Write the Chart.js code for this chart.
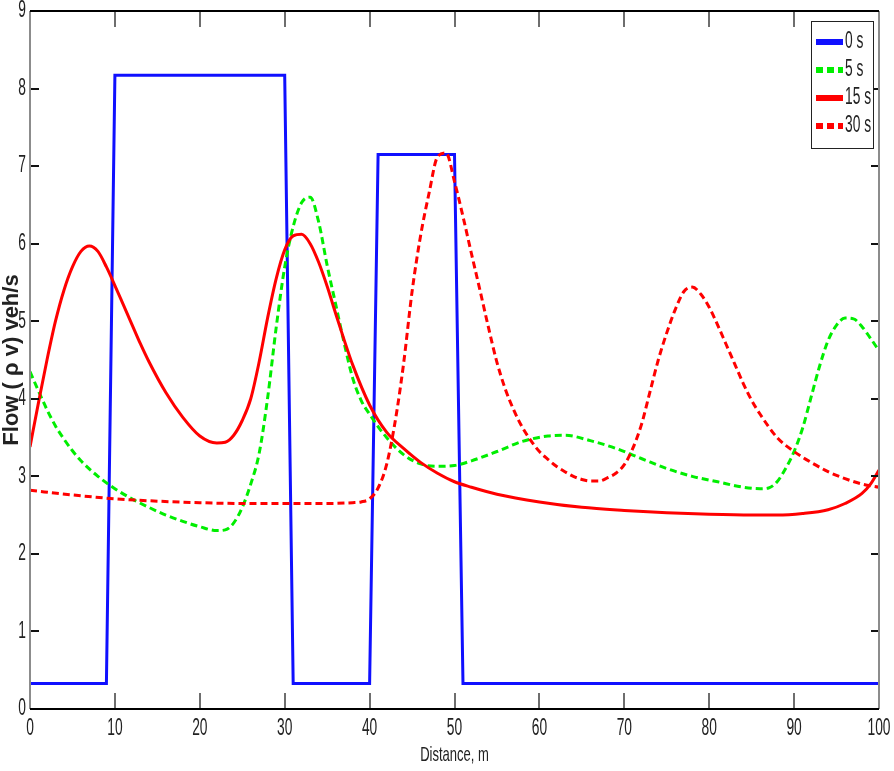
<!DOCTYPE html>
<html>
<head>
<meta charset="utf-8">
<title>Flow vs distance</title>
<script src="https://cdn.jsdelivr.net/npm/chart.js@4.4.1/dist/chart.umd.min.js"></script>
<style>
  html, body { margin: 0; padding: 0; background: #fff; }
  canvas { display: block; }
</style>
</head>
<body>
<canvas id="flowChart" width="894" height="771"></canvas>
<script>
// tick labels
const xTicks = [0, 10, 20, 30, 40, 50, 60, 70, 80, 90, 100];
const yTicks = [0, 1, 2, 3, 4, 5, 6, 7, 8, 9];

// series names (legend)
const seriesNames = ['0 s', '5 s', '15 s', '30 s'];

// 0 s  - initial blocks
const x0 = [0, 9, 10, 30, 31, 40, 41, 50, 51, 100];
const y0 = [0.33, 0.33, 8.17, 8.17, 0.33, 0.33, 7.15, 7.15, 0.33, 0.33];

// 5 s
const x5 = [0, 1, 2, 3, 4, 5, 6, 8, 10, 12, 14, 16, 18, 20, 22,
  23, 24, 25, 26, 27, 28, 29, 30, 31, 32, 33, 34, 35, 36, 37, 38, 39, 40,
  42, 44, 46, 48, 50, 52, 55, 58, 61, 63, 66, 69, 72, 75, 78, 81, 84, 86,
  87, 88, 89, 90, 91, 92, 93, 94, 95, 96, 97, 98, 99, 100];
const y5 = [4.35, 4.1, 3.86, 3.65, 3.48, 3.33, 3.2, 3.0, 2.84, 2.71, 2.6, 2.5, 2.42, 2.35, 2.3,
  2.31, 2.4, 2.6, 2.9, 3.3, 4.02, 4.92, 5.7, 6.22, 6.53, 6.6, 6.28, 5.72, 5.22, 4.72, 4.27, 3.98, 3.8,
  3.5, 3.28, 3.16, 3.13, 3.14, 3.2, 3.32, 3.45, 3.52, 3.53, 3.46, 3.36, 3.23, 3.1, 3.0, 2.93, 2.86, 2.84,
  2.85, 2.93, 3.1, 3.32, 3.62, 4.02, 4.42, 4.75, 4.95, 5.04, 5.03, 4.93, 4.78, 4.62];

// 15 s
const x15 = [0, 1, 2, 3, 4, 5, 6, 7, 8, 9, 10, 11, 12, 13, 14, 16, 18, 20, 22,
  23, 24, 25, 26, 27, 28, 29, 30, 31, 32, 33, 34, 35, 36, 37, 38,
  40, 42, 44, 46, 48, 50, 52, 55, 60, 65, 70, 75, 80, 85, 88, 91, 94, 96, 98, 99, 100];
const y15 = [3.38, 3.95, 4.5, 5.0, 5.4, 5.7, 5.9, 5.97, 5.9, 5.7, 5.46, 5.21, 4.96, 4.71, 4.48, 4.08, 3.76, 3.52, 3.43,
  3.44, 3.53, 3.72, 4.0, 4.48, 5.05, 5.55, 5.92, 6.1, 6.12, 6.0, 5.76, 5.45, 5.1, 4.76, 4.44,
  3.92, 3.57, 3.36, 3.18, 3.04, 2.93, 2.86, 2.77, 2.67, 2.6, 2.56, 2.53, 2.51, 2.5, 2.5, 2.52, 2.57, 2.65, 2.78, 2.9, 3.08];

// 30 s
const x30 = [0, 5, 10, 15, 20, 25, 30, 35, 38, 39,
  40, 41, 42, 43, 44, 45, 46, 47, 48, 49, 50, 51, 52, 53, 54, 55, 56, 57, 58, 59,
  60, 61, 62, 63, 64, 65, 66, 67, 68, 69,
  70, 71, 72, 73, 74, 75, 76, 77, 78, 79, 80, 81, 82, 83, 84, 85, 86,
  88, 90, 92, 94, 96, 98, 100];
const y30 = [2.82, 2.76, 2.71, 2.68, 2.66, 2.65, 2.65, 2.65, 2.66, 2.67,
  2.71, 2.85, 3.15, 3.7, 4.45, 5.38, 6.1, 6.65, 7.12, 7.17, 6.8, 6.35, 5.87, 5.4, 4.92, 4.47, 4.12, 3.85, 3.63, 3.46,
  3.32, 3.22, 3.13, 3.06, 3.0, 2.96, 2.94, 2.94, 2.98, 3.04,
  3.15, 3.36, 3.66, 4.08, 4.5, 4.85, 5.15, 5.38, 5.44, 5.35, 5.18, 4.95, 4.7, 4.45, 4.2, 3.98, 3.8,
  3.5, 3.32, 3.18, 3.06, 2.97, 2.9, 2.86];

const FONT = "'Liberation Sans', Arial, sans-serif";

function toPoints(xs, ys) {
  return xs.map((x, i) => ({ x: x, y: ys[i] }));
}

// narrow text like the original figure
function squeezeText(ctx, text, x, y, size, sx, align) {
  ctx.save();
  ctx.translate(x, y);
  ctx.scale(sx, 1);
  ctx.font = size + 'px ' + FONT;
  ctx.textAlign = align;
  ctx.textBaseline = 'middle';
  ctx.fillText(text, 0, 0);
  ctx.restore();
}

// box, inward ticks, labels and legend drawn MATLAB style
const matlabFrame = {
  id: 'matlabFrame',
  afterDraw(chart) {
    const ctx = chart.ctx;
    const a = chart.chartArea;
    const xs = chart.scales.x;
    const ys = chart.scales.y;
    ctx.save();

    // tick marks
    ctx.lineWidth = 2;
    ctx.strokeStyle = '#6e6e6e';
    xTicks.forEach(v => {
      const px = Math.round(xs.getPixelForValue(v));
      ctx.beginPath();
      ctx.moveTo(px, a.bottom); ctx.lineTo(px, a.bottom - 16);
      ctx.moveTo(px, a.top); ctx.lineTo(px, a.top + 16);
      ctx.stroke();
    });
    ctx.strokeStyle = '#111';
    yTicks.forEach(v => {
      const py = Math.round(ys.getPixelForValue(v));
      ctx.beginPath();
      ctx.moveTo(a.left, py); ctx.lineTo(a.left + 9, py);
      ctx.moveTo(a.right, py); ctx.lineTo(a.right - 8, py);
      ctx.stroke();
    });

    // axes box
    ctx.strokeStyle = '#8c8c8c';
    ctx.beginPath();
    ctx.moveTo(a.left, a.top); ctx.lineTo(a.left, a.bottom);
    ctx.moveTo(a.right, a.top); ctx.lineTo(a.right, a.bottom);
    ctx.stroke();
    ctx.strokeStyle = '#000';
    ctx.beginPath();
    ctx.moveTo(a.left, a.top); ctx.lineTo(a.right, a.top);
    ctx.moveTo(a.left, a.bottom); ctx.lineTo(a.right, a.bottom);
    ctx.stroke();

    // tick labels
    ctx.fillStyle = '#222';
    yTicks.forEach(v => {
      squeezeText(ctx, String(v), a.left - 4, ys.getPixelForValue(v), 23, 0.6, 'right');
    });
    xTicks.forEach(v => {
      squeezeText(ctx, String(v), xs.getPixelForValue(v), a.bottom + 20, 23, 0.6, 'center');
    });

    // axis titles
    squeezeText(ctx, 'Distance, m', (a.left + a.right) / 2, 755, 21, 0.62, 'center');
    ctx.save();
    ctx.translate(12, (a.top + a.bottom) / 2);
    ctx.rotate(-Math.PI / 2);
    ctx.font = 'bold 22px ' + FONT;
    ctx.textAlign = 'center';
    ctx.textBaseline = 'middle';
    ctx.fillText('Flow ( \u03c1 v) veh/s', 0, 0);
    ctx.restore();

    // legend
    const bx = 811.5, by = 21.5, bw = 62, bh = 127;
    ctx.fillStyle = '#fff';
    ctx.fillRect(bx, by, bw, bh);
    ctx.lineWidth = 1;
    ctx.strokeStyle = '#222';
    ctx.strokeRect(bx, by, bw, bh);
    chart.data.datasets.forEach((ds, i) => {
      const ly = 42 + i * 28;
      ctx.save();
      ctx.strokeStyle = ds.borderColor;
      ctx.lineWidth = 6;
      ctx.setLineDash(ds.borderDash || []);
      ctx.beginPath();
      ctx.moveTo(816, ly); ctx.lineTo(843, ly);
      ctx.stroke();
      ctx.restore();
      ctx.fillStyle = '#222';
      squeezeText(ctx, ds.label, 845, ly, 23, 0.6, 'left');
    });

    ctx.restore();
  }
};

const ctx = document.getElementById('flowChart').getContext('2d');
const flowChart = new Chart(ctx, {
  type: 'scatter',
  data: {
    datasets: [{
      label: seriesNames[0],
      data: toPoints(x0, y0),
      borderColor: '#1010ff',
      borderWidth: 3,
      tension: 0,
      order: 3
    }, {
      label: seriesNames[1],
      data: toPoints(x5, y5),
      borderColor: '#00ee00',
      borderWidth: 3,
      borderDash: [7, 4],
      cubicInterpolationMode: 'monotone',
      order: 2
    }, {
      label: seriesNames[2],
      data: toPoints(x15, y15),
      borderColor: '#ff0000',
      borderWidth: 3,
      cubicInterpolationMode: 'monotone',
      order: 1
    }, {
      label: seriesNames[3],
      data: toPoints(x30, y30),
      borderColor: '#ff0000',
      borderWidth: 3,
      borderDash: [7, 4],
      cubicInterpolationMode: 'monotone',
      order: 0
    }]
  },
  options: {
    responsive: false,
    animation: false,
    showLine: true,
    elements: { point: { radius: 0, hoverRadius: 0 } },
    layout: { padding: { top: 11, right: 15, left: 0, bottom: 0 } },
    plugins: {
      legend: { display: false },
      tooltip: { enabled: false }
    },
    scales: {
      x: {
        type: 'linear',
        min: 0, max: 100,
        ticks: { display: false, stepSize: 10 },
        grid: { display: false },
        border: { display: false },
        afterFit: (s) => { s.height = 62; }
      },
      y: {
        type: 'linear',
        min: 0, max: 9,
        ticks: { display: false, stepSize: 1 },
        grid: { display: false },
        border: { display: false },
        afterFit: (s) => { s.width = 30; }
      }
    }
  },
  plugins: [matlabFrame]
});
</script>
</body>
</html>
